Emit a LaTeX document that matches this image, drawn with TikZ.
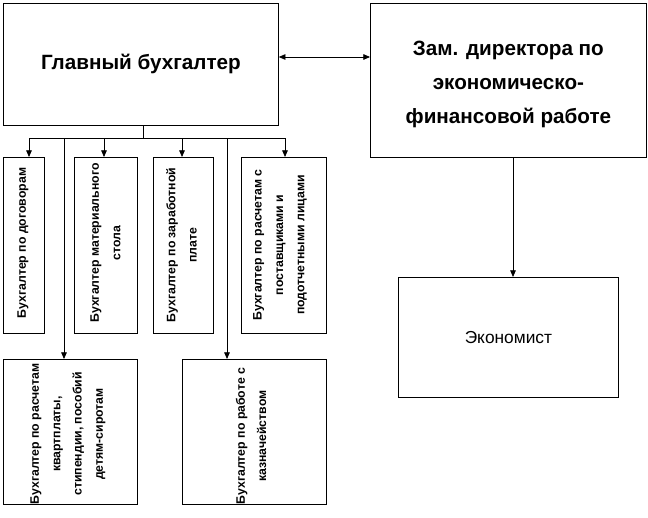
\documentclass[tikz,border=0pt]{standalone}
\usepackage{fontspec}
\setmainfont{Liberation Sans}
\usetikzlibrary{arrows.meta,calc}
\begin{document}
\begin{tikzpicture}[x=0.75pt,y=-0.75pt,
  box/.style={draw, line width=0.6pt, inner sep=0pt},
  ln/.style={line width=0.6pt},
  arr/.style={-{Triangle[length=5pt,width=4.2pt]}, line width=0.6pt},
  arrboth/.style={{Triangle[length=5pt,width=4.2pt]}-{Triangle[length=5pt,width=4.2pt]}, line width=0.6pt},
  small/.style={rotate=90, align=center, font=\fontsize{9.2}{16}\selectfont\bfseries},
  bigt/.style={align=center, font=\fontsize{15.5}{25.5}\selectfont\bfseries}]
\useasboundingbox (0,0) rectangle (648,517);
\newcommand\mybox[5]{\node[box, anchor=north west, minimum width={(#4-#2)*0.75pt}, minimum height={(#5-#3)*0.75pt}] (#1) at (#2,#3) {};}
\mybox{main}{3}{3}{278}{125}
\mybox{zam}{370}{3}{646}{157}
\mybox{b1}{3}{157}{44}{333}
\mybox{b2}{74}{157}{137}{333}
\mybox{b3}{153}{157}{213}{333}
\mybox{b4}{241}{157}{326}{333}
\mybox{b5}{3}{359}{137}{504}
\mybox{b6}{182}{359}{326}{504}
\mybox{eco}{398}{277}{618}{397}
% texts
\node[bigt] (tmain) at (main.center) {Главный бухгалтер};
\node[bigt] (tzam) at ($(zam.center)+(0,4)$) {Зам. директора по\\экономическо-\\финансовой работе};
\node[font=\fontsize{13}{15}\selectfont] (teco) at (eco.center) {Экономист};
\node[small] (t1) at (23,243) {Бухгалтер по договорам};
\node[small] (t2) at (105.5,243) {Бухгалтер материального\\стола};
\node[small] (t3) at (181.5,245) {Бухгалтер по заработной\\плате};
\node[small] (t4) at (280,245) {Бухгалтер по расчетам с\\поставщиками и\\подотчетными лицами};
\node[small] (t5) at (68,434) {Бухгалтер по расчетам\\квартплаты,\\стипендии, пособий\\детям-сиротам};
\node[small] (t6) at (251,436) {Бухгалтер по работе с\\казначейством};
% connectors
\coordinate (j) at (143,138);
\coordinate (bL) at (29,138);
\coordinate (bR) at (285,138);
\coordinate (a2) at (104,138);
\coordinate (a3) at (182,138);
\coordinate (v1) at (64,138);
\coordinate (v2) at (227,138);
\draw[ln] (main.south -| j) -- (j);
\draw[ln] (bL) -- (bR);
\draw[arr] (bL) -- (bL |- b1.north);
\draw[arr] (a2) -- (a2 |- b2.north);
\draw[arr] (a3) -- (a3 |- b3.north);
\draw[arr] (bR) -- (bR |- b4.north);
\draw[arr] (v1) -- (v1 |- b5.north);
\draw[arr] (v2) -- (v2 |- b6.north);
\coordinate (h) at (278,57);
\draw[arrboth] (h -| main.east) -- (h -| zam.west);
\coordinate (z) at (513,0);
\draw[arr] (z |- zam.south) -- (z |- eco.north);
\end{tikzpicture}
\end{document}
